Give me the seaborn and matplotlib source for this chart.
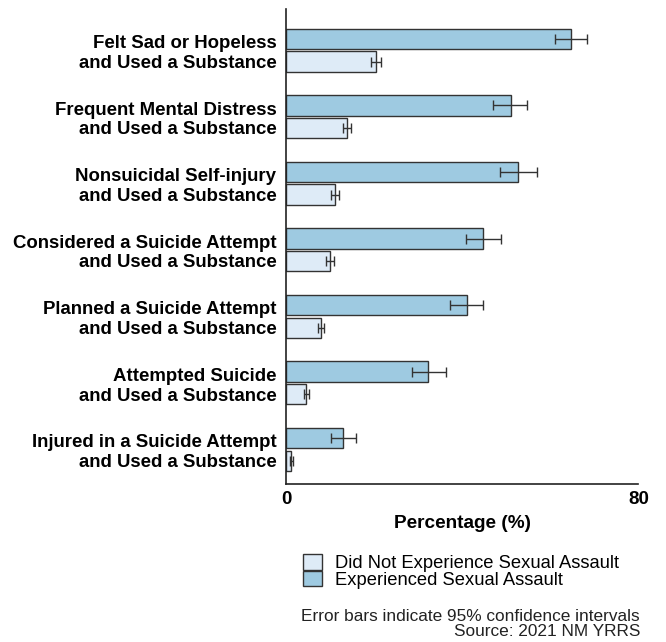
import matplotlib
matplotlib.use("Agg")
import matplotlib.pyplot as plt
import seaborn as sns
import pandas as pd
import numpy as np
from matplotlib.patches import Patch

categories = [
    "Felt Sad or Hopeless\nand Used a Substance",
    "Frequent Mental Distress\nand Used a Substance",
    "Nonsuicidal Self-injury\nand Used a Substance",
    "Considered a Suicide Attempt\nand Used a Substance",
    "Planned a Suicide Attempt\nand Used a Substance",
    "Attempted Suicide\nand Used a Substance",
    "Injured in a Suicide Attempt\nand Used a Substance",
]
series_names = ["Experienced Sexual Assault", "Did Not Experience Sexual Assault"]
exp_values = [64.8, 51.0, 52.7, 44.8, 41.1, 32.3, 12.9]
exp_low = [61.0, 47.1, 48.5, 40.8, 37.3, 28.6, 10.3]
exp_high = [68.3, 54.7, 56.9, 48.9, 44.8, 36.4, 15.9]
no_values = [20.4, 13.8, 11.1, 10.0, 7.9, 4.6, 1.2]
no_low = [19.2, 12.9, 10.2, 9.0, 7.2, 4.1, 1.0]
no_high = [21.6, 14.8, 12.0, 10.8, 8.7, 5.3, 1.5]
x_ticks = [0, 80]

colors = {"Experienced Sexual Assault": "#9ecae1",
          "Did Not Experience Sexual Assault": "#deebf7"}

df = pd.DataFrame({
    "category": categories * 2,
    "group": [series_names[0]] * 7 + [series_names[1]] * 7,
    "value": exp_values + no_values,
    "low": exp_low + no_low,
    "high": exp_high + no_high,
})

sns.set_theme(style="white")
plt.rcParams["font.family"] = ["Liberation Sans", "DejaVu Sans"]
plt.rcParams["text.color"] = "black"
plt.rcParams["xtick.color"] = "black"
plt.rcParams["ytick.color"] = "black"
plt.rcParams["axes.labelcolor"] = "black"

fig = plt.figure(figsize=(6.66, 6.42), dpi=100)
ax = fig.add_axes([0.4295, 0.246, 0.529, 0.74])

sns.barplot(data=df, x="value", y="category", hue="group", order=categories,
            hue_order=series_names, palette=colors, orient="h", saturation=1,
            width=0.68, gap=0.1, errorbar=None, edgecolor="#333333",
            linewidth=1.0, legend=False, ax=ax)

# error bars from the bar patches
for container, name in zip(ax.containers, series_names):
    sub = df[df["group"] == name].set_index("category").loc[categories]
    ys = [p.get_y() + p.get_height() / 2 for p in container.patches]
    vals = sub["value"].values
    xerr = np.vstack([vals - sub["low"].values, sub["high"].values - vals])
    ax.errorbar(vals, ys, xerr=xerr, fmt="none", ecolor="#333333",
                elinewidth=1.0, capsize=3.5, capthick=1.0)

ax.set_xlim(0, 80)
ax.set_ylim(6.52, -0.62)
ax.set_xticks(x_ticks)
ax.set_xticklabels([str(t) for t in x_ticks], fontsize=13.5, fontweight="bold")
ax.tick_params(axis="x", length=4, width=1, color="#333333", pad=1)
ax.tick_params(axis="y", length=0, pad=7)
for lab in ax.get_yticklabels():
    lab.set_fontsize(13.4)
    lab.set_fontweight("bold")
    lab.set_horizontalalignment("right")
    lab.set_linespacing(1.2)
ax.set_ylabel("")
ax.set_xlabel("Percentage (%)", fontsize=13.7, fontweight="bold", labelpad=5)
sns.despine(ax=ax, top=True, right=True)
for s in ["left", "bottom"]:
    ax.spines[s].set_color("#222222")
    ax.spines[s].set_linewidth(1.2)

handles = [Patch(facecolor=colors[series_names[1]], edgecolor="#333333", label=series_names[1]),
           Patch(facecolor=colors[series_names[0]], edgecolor="#333333", label=series_names[0])]
fig.legend(handles=handles, loc="upper left", bbox_to_anchor=(0.444, 0.148),
           frameon=False, fontsize=13.2, handlelength=1.04, handleheight=0.92,
           handletextpad=0.7, labelspacing=-0.08, borderaxespad=0)

fig.text(0.961, 0.004, "Error bars indicate 95% confidence intervals\nSource: 2021 NM YRRS",
         ha="right", va="bottom", fontsize=12.4, color="#222222", linespacing=1.05,
         multialignment="right")

fig.savefig("out.png", dpi=100)
